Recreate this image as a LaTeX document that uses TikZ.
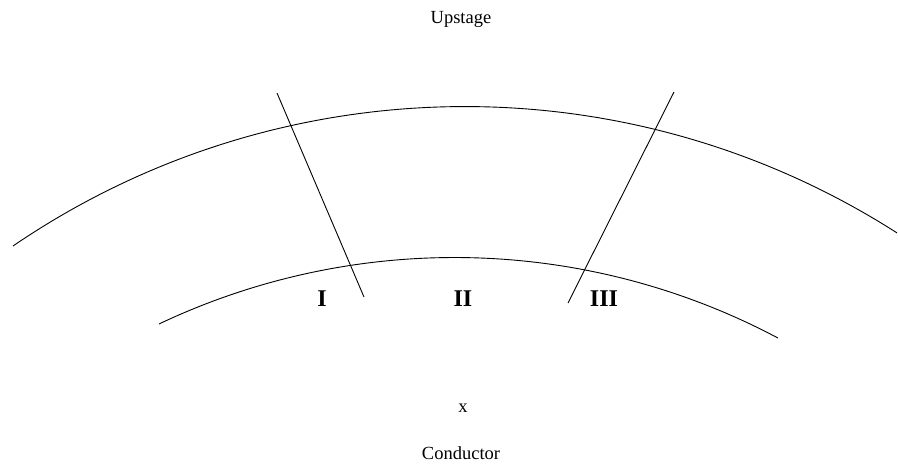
\documentclass[tikz,border=0pt]{standalone}
\usepackage{fontspec}
\setmainfont{Liberation Serif}
\begin{document}
\begin{tikzpicture}[x=1pt,y=1pt,
  curve/.style={line width=0.9pt},
  lbl/.style={font=\fontsize{18.5}{20}\selectfont, inner sep=0pt, anchor=center},
  zone/.style={lbl, font=\fontsize{24}{26}\selectfont\bfseries}]
\useasboundingbox (0,0) rectangle (898,467);
% outer arc
\coordinate (bigL) at (13,221);
\draw[curve] (bigL) arc[start angle=124.3, end angle=57.4, radius=802] coordinate (bigR);
% inner arc
\coordinate (smL) at (159,143);
\draw[curve] (smL) arc[start angle=115.36, end angle=62.05, radius=690] coordinate (smR);
% dividers
\coordinate (l1) at (277,374);
\coordinate (l2) at (364,170);
\coordinate (r1) at (674,375);
\coordinate (r2) at (568,164);
\draw[curve] (l1) -- (l2);
\draw[curve] (r1) -- (r2);
% labels
\node[lbl] (up) at (461,448) {Upstage};
\node[zone] (z1) at (322,168) {I};
\node[zone] (z2) at (463,168) {II};
\node[zone] (z3) at (604,168) {III};
\node[lbl] (x) at (463,59) {x};
\node[lbl] (cond) at (461,14) {Conductor};
\end{tikzpicture}
\end{document}
